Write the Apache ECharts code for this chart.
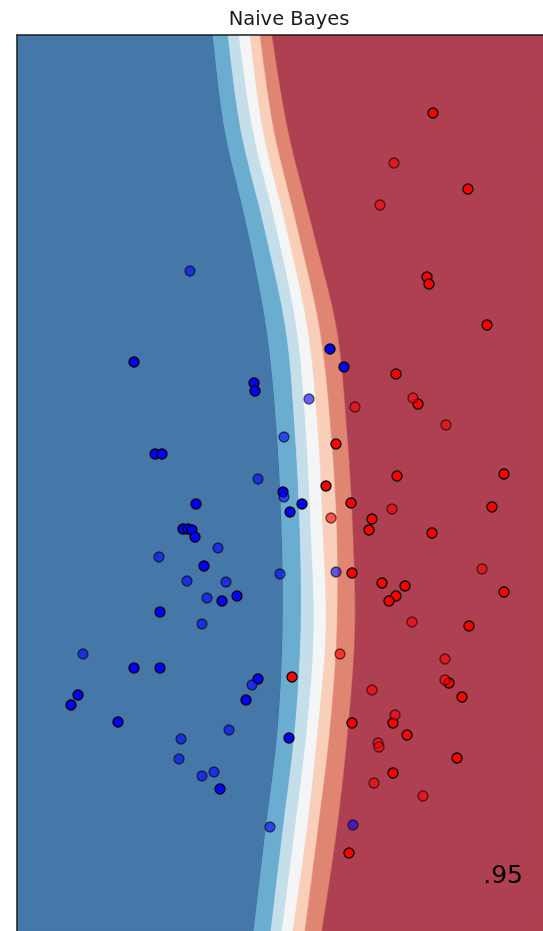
<!DOCTYPE html>
<html>
<head>
<meta charset="utf-8">
<title>Naive Bayes</title>
<script src="https://cdn.jsdelivr.net/npm/echarts@6/dist/echarts.min.js"></script>
<style>
  html, body { margin: 0; padding: 0; background: #ffffff; }
  #chart { width: 543px; height: 931px; }
</style>
</head>
<body>
<div id="chart"></div>
<script>
// Visible limits of the feature space
const xLimits = [-2.0, 3.26];
const yLimits = [-4.46, 4.5];

// Heights at which the probability contour boundaries are sampled
const contourY = [4.5, 3.55, 2.55, 1.55, 0.55, -0.45, -1.45, -2.45, -3.45, -4.46];

// x position of each contour boundary (class probability levels, blue -> red)
const boundary1 = [-0.05, 0.07, 0.30, 0.49, 0.59, 0.64, 0.65, 0.60, 0.48, 0.36];
const boundary2 = [0.11, 0.24, 0.48, 0.69, 0.78, 0.83, 0.84, 0.78, 0.66, 0.54];
const boundary3 = [0.22, 0.36, 0.60, 0.80, 0.89, 0.94, 0.97, 0.90, 0.78, 0.65];
const boundary4 = [0.33, 0.46, 0.70, 0.91, 1.01, 1.06, 1.09, 1.01, 0.90, 0.76];
const boundary5 = [0.43, 0.57, 0.81, 1.03, 1.14, 1.20, 1.20, 1.13, 1.01, 0.88];
const boundary6 = [0.55, 0.71, 0.96, 1.20, 1.30, 1.36, 1.38, 1.31, 1.20, 1.05];

// Filled contour colours (RdBu, alpha 0.8 on white)
const bandColors = ['#4577a8', '#6badd1', '#c4deea', '#f3f5f6', '#f9cfb9', '#e08572', '#ae4051'];

// Training points
const trainBlue = [
  [-0.83, 1.23], [-0.62, 0.31], [-0.55, 0.31], [-0.21, -0.19], [-0.34, -0.44],
  [-0.29, -0.44], [-0.25, -0.45], [-0.22, -0.52], [-0.13, -0.81], [0.20, -1.11],
  [0.05, -1.16], [-0.57, -1.27], [-0.83, -1.83], [-0.57, -1.83], [-1.39, -2.10],
  [-1.46, -2.20], [-0.99, -2.37], [0.41, -1.94], [0.29, -2.15], [0.72, -2.53],
  [0.03, -3.04], [0.37, 1.02], [0.38, 0.94], [0.66, -0.07], [0.85, -0.19],
  [0.73, -0.27], [1.13, 1.36], [1.27, 1.18]
];
const trainRed = [
  [2.16, 3.72], [2.51, 2.96], [2.10, 2.08], [2.12, 2.01], [2.70, 1.60],
  [1.79, 1.11], [2.01, 0.81], [1.19, 0.41], [1.80, 0.09], [2.87, 0.11],
  [1.09, -0.01], [1.34, -0.18], [2.75, -0.22], [1.55, -0.34], [1.52, -0.45],
  [2.15, -0.48], [1.35, -0.88], [1.65, -0.98], [1.88, -1.01], [1.79, -1.11],
  [1.72, -1.16], [2.87, -1.07], [2.52, -1.41], [2.32, -1.98], [2.45, -2.12],
  [0.75, -1.92], [1.35, -2.38], [1.76, -2.38], [1.90, -2.50], [2.40, -2.73],
  [1.76, -2.88], [1.32, -3.68]
];

// Test points
const testBlue = [
  [-0.27, 2.14], [-0.58, -0.72], [0.01, -0.63], [-0.30, -0.96], [0.09, -0.97],
  [-0.10, -1.13], [-0.15, -1.39], [-1.34, -1.69], [0.35, -2.00], [0.12, -2.45],
  [-0.36, -2.54], [-0.38, -2.74], [-0.03, -2.87], [-0.15, -2.91], [0.53, -3.42],
  [0.92, 0.86], [0.67, 0.48], [0.41, 0.06], [0.67, -0.12], [0.63, -0.89],
  [1.19, -0.87], [1.36, -3.40]
];
const testRed = [
  [1.77, 3.22], [1.63, 2.80], [1.96, 0.87], [1.38, 0.78], [2.29, 0.60],
  [1.75, -0.24], [1.14, -0.33], [2.65, -0.84], [1.95, -1.37], [1.23, -1.69],
  [2.28, -1.74], [2.28, -1.95], [1.55, -2.05], [1.78, -2.30], [1.61, -2.58],
  [1.62, -2.62], [1.57, -2.98], [2.06, -3.11]
];

// Test-set accuracy shown in the corner
const scoreText = '.95';

const boundaries = [boundary1, boundary2, boundary3, boundary4, boundary5, boundary6];
const leftEdge = contourY.map(() => xLimits[0]);
const rightEdge = contourY.map(() => xLimits[1]);

// Project a boundary through the axes and draw it as a smooth Catmull-Rom curve
function smoothBoundary(api, xs) {
  const p = xs.map((x, k) => api.coord([x, contourY[k]]));
  const out = [p[0]];
  const steps = 12;
  for (let k = 0; k < p.length - 1; k++) {
    const p0 = p[Math.max(k - 1, 0)], p1 = p[k], p2 = p[k + 1], p3 = p[Math.min(k + 2, p.length - 1)];
    for (let s = 1; s <= steps; s++) {
      const t = s / steps, t2 = t * t, t3 = t2 * t;
      const f = (a, b, c, d) => 0.5 * ((2 * b) + (-a + c) * t + (2 * a - 5 * b + 4 * c - d) * t2 + (-a + 3 * b - 3 * c + d) * t3);
      out.push([f(p0[0], p1[0], p2[0], p3[0]), f(p0[1], p1[1], p2[1], p3[1])]);
    }
  }
  return out;
}

function renderBand(params, api) {
  const i = params.dataIndex;
  const left = smoothBoundary(api, i === 0 ? leftEdge : boundaries[i - 1]);
  const right = smoothBoundary(api, i === bandColors.length - 1 ? rightEdge : boundaries[i]);
  const children = [{
    type: 'polygon',
    shape: { points: left.concat(right.slice().reverse()) },
    style: { fill: bandColors[i], stroke: bandColors[i], lineWidth: 0.6 }
  }];
  if (i === 1) {
    // thin darker edge where the outer blue level begins
    children.push({
      type: 'polyline',
      shape: { points: left },
      style: { stroke: '#3a6ca2', lineWidth: 1, fill: null }
    });
  }
  return { type: 'group', children: children };
}

function pointSeries(data, color, alpha) {
  return {
    type: 'scatter',
    data: data,
    symbol: 'circle',
    symbolSize: 10,
    silent: true,
    z: alpha < 1 ? 6 : 5,
    itemStyle: { color: color, borderColor: '#000000', borderWidth: 1.3, opacity: alpha }
  };
}

const chart = echarts.init(document.getElementById('chart'), null, { renderer: 'canvas' });
chart.setOption({
  animation: false,
  backgroundColor: '#ffffff',
  title: {
    text: 'Naive Bayes',
    left: 284,
    top: 5,
    textAlign: 'center',
    textStyle: { fontFamily: 'DejaVu Sans', fontSize: 19.5, fontWeight: 'normal', color: '#1a1a1a' }
  },
  grid: { left: 17, top: 35, right: 0, bottom: 0 },
  xAxis: {
    type: 'value', min: xLimits[0], max: xLimits[1], position: 'top', z: 10,
    axisLine: { show: true, onZero: false, lineStyle: { color: '#1a1a1a', width: 1.5 } },
    axisTick: { show: false }, axisLabel: { show: false }, splitLine: { show: false }
  },
  yAxis: {
    type: 'value', min: yLimits[0], max: yLimits[1], z: 10,
    axisLine: { show: true, onZero: false, lineStyle: { color: '#1a1a1a', width: 1.5 } },
    axisTick: { show: false }, axisLabel: { show: false }, splitLine: { show: false }
  },
  graphic: [{
    type: 'text',
    z: 20,
    style: {
      text: scoreText, x: 523, y: 876,
      textAlign: 'right', textVerticalAlign: 'middle',
      font: '25px "DejaVu Sans"', fill: '#000000'
    }
  }],
  series: [
    {
      type: 'custom',
      silent: true,
      clip: true,
      z: 1,
      renderItem: renderBand,
      data: bandColors.map((c, i) => ({ value: [xLimits[0], yLimits[0]], name: 'band' + i }))
    },
    pointSeries(trainBlue, '#0000ff', 1),
    pointSeries(trainRed, '#ff0000', 1),
    pointSeries(testBlue, '#0000ff', 0.6),
    pointSeries(testRed, '#ff0000', 0.6)
  ]
});
</script>
</body>
</html>
